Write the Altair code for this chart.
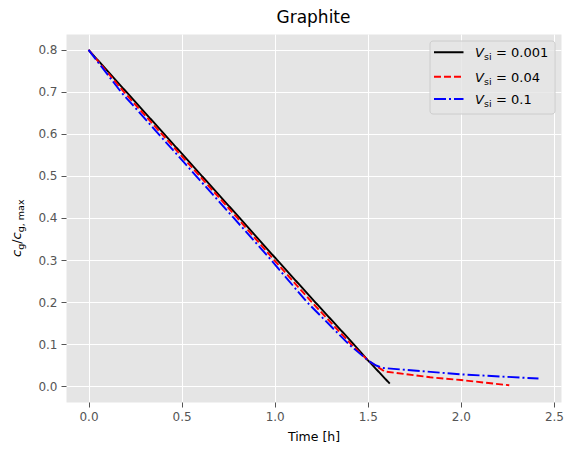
import altair as alt
import pandas as pd

# ---- data ----
t_black = [0.0, 0.203, 0.812, 1.013, 1.217, 1.424, 1.504, 1.618]
c_black = [0.8, 0.7, 0.4, 0.3, 0.2, 0.1, 0.060, 0.006]

t_red = [0.0, 0.190, 0.800, 0.997, 1.199, 1.410, 1.504, 1.590, 1.835, 2.0, 2.26]
c_red = [0.8, 0.7, 0.4, 0.3, 0.2, 0.1, 0.060, 0.035, 0.021, 0.0145, 0.002]

t_blue = [0.0, 0.174, 0.780, 0.981, 1.173, 1.397, 1.504, 1.545, 1.585, 2.0, 2.417]
c_blue = [0.8, 0.7, 0.4, 0.3, 0.2, 0.1, 0.060, 0.049, 0.043, 0.028, 0.018]

series_labels = ["0.001", "0.04", "0.1"]
series_colors = ["#000000", "#FF0000", "#0000FF"]
series_dash = [[1, 0], [7, 3], [12, 3, 2, 3]]

x_ticks = [0.0, 0.5, 1.0, 1.5, 2.0, 2.5]
y_ticks = [0.0, 0.1, 0.2, 0.3, 0.4, 0.5, 0.6, 0.7, 0.8]
x_domain = [-0.121, 2.538]
y_domain = [-0.0378, 0.8377]

W, H = 495, 368
FONT = "DejaVu Sans"

axis_common = dict(
    domain=False, grid=True, gridColor="white", gridWidth=1,
    ticks=True, tickColor="#555555", tickSize=5, tickWidth=1,
    labelColor="#555555", labelFontSize=12, labelFont=FONT, labelPadding=4,
    format=".1f",
)

x_enc = alt.X("t:Q", scale=alt.Scale(domain=x_domain, nice=False, zero=False),
              axis=alt.Axis(values=x_ticks, title="Time [h]", titleFont=FONT,
                            titleFontSize=12.5, titleColor="black",
                            titleFontWeight="normal", titlePadding=8, **axis_common))
y_enc = alt.Y("c:Q", scale=alt.Scale(domain=y_domain, nice=False, zero=False),
              axis=alt.Axis(values=y_ticks, title=None, **axis_common))

series = [(t_black, c_black), (t_red, c_red), (t_blue, c_blue)]
layers = []
for i, (tt, cc) in enumerate(series):
    df = pd.DataFrame({"t": tt, "c": cc, "order": list(range(len(tt)))})
    layers.append(
        alt.Chart(df).mark_line(color=series_colors[i], strokeWidth=1.9,
                                strokeDash=series_dash[i])
        .encode(x=x_enc, y=y_enc, order="order:Q")
    )

dummy = pd.DataFrame({"a": [0]})

# ---- y-axis title with subscripts (c_g / c_g,max), rotated ----
ylab_x, ylab_y = -45, 223
ypieces = [("c", 0, 0, 13, "italic"), ("g", 7.2, 3, 9.5, "normal"),
           ("/", 13.2, 0, 13, "normal"), ("c", 17.6, 0, 13, "italic"),
           ("g, max", 24.8, 3, 9.5, "normal")]
for txt, dx, dy, fs, style in ypieces:
    layers.append(
        alt.Chart(dummy).mark_text(angle=270, align="left", baseline="alphabetic",
                                   dx=dx, dy=dy, fontSize=fs, fontStyle=style,
                                   font=FONT, color="black")
        .encode(x=alt.value(ylab_x), y=alt.value(ylab_y), text=alt.value(txt))
    )

# ---- legend ----
layers.append(
    alt.Chart(dummy).mark_rect(fill="#E5E5E5", fillOpacity=0.8, stroke="#CCCCCC",
                               strokeWidth=1, cornerRadius=3)
    .encode(x=alt.value(364), x2=alt.value(489), y=alt.value(7), y2=alt.value(80))
)
row_y = [18.3, 42.7, 65.0]
for i, lab in enumerate(series_labels):
    ry = row_y[i]
    layers.append(
        alt.Chart(dummy).mark_rule(color=series_colors[i], strokeWidth=1.9,
                                   strokeDash=series_dash[i])
        .encode(x=alt.value(368), x2=alt.value(397.5), y=alt.value(ry))
    )
    layers.append(
        alt.Chart(dummy).mark_text(align="left", baseline="alphabetic", fontSize=13,
                                   fontStyle="italic", font=FONT, color="black")
        .encode(x=alt.value(409), y=alt.value(ry + 4.8), text=alt.value("V"))
    )
    layers.append(
        alt.Chart(dummy).mark_text(align="left", baseline="alphabetic", fontSize=9.5,
                                   font=FONT, color="black")
        .encode(x=alt.value(418), y=alt.value(ry + 7.8), text=alt.value("si"))
    )
    layers.append(
        alt.Chart(dummy).mark_text(align="left", baseline="alphabetic", fontSize=13,
                                   font=FONT, color="black")
        .encode(x=alt.value(430), y=alt.value(ry + 4.8), text=alt.value("= " + lab))
    )

chart = (
    alt.layer(*layers)
    .properties(
        width=W, height=H,
        title=alt.TitleParams("Graphite", fontSize=17, font=FONT, fontWeight="normal",
                              color="black", anchor="middle", offset=7),
        autosize=alt.AutoSizeParams(type="none"),
        padding={"left": 58, "top": 26, "right": 5, "bottom": 46},
        background="white",
    )
    .configure_view(fill="#E5E5E5", stroke="transparent")
)

chart.save("out.html", embed_options={"renderer": "svg", "actions": False})
